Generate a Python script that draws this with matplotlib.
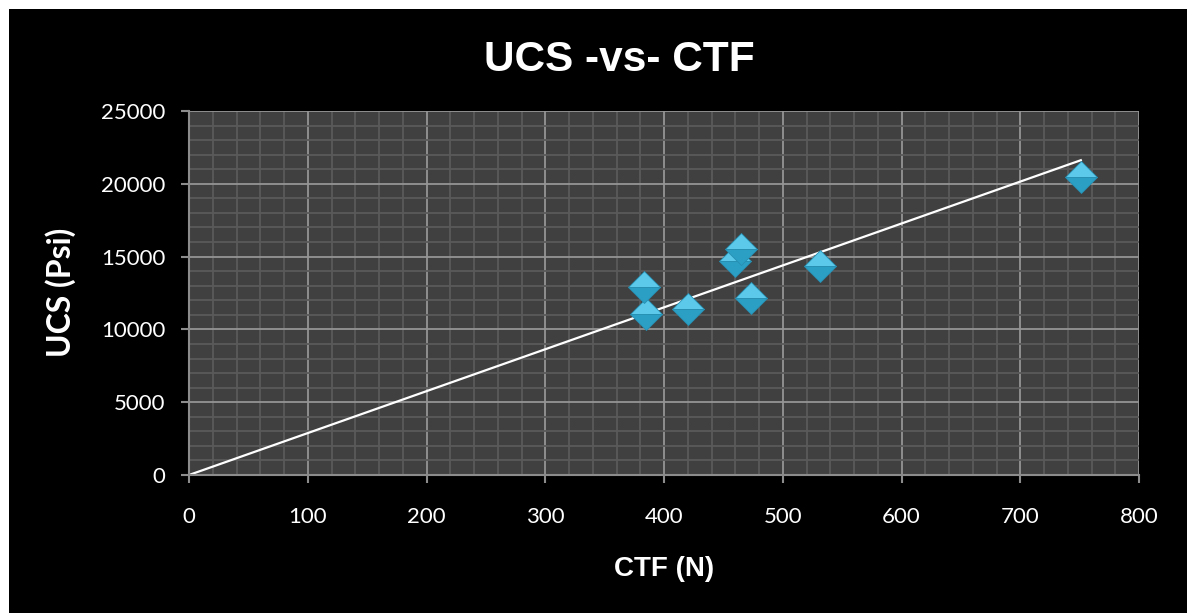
import numpy as np
import matplotlib
matplotlib.use("Agg")
import matplotlib.pyplot as plt
from matplotlib.patches import Rectangle
from matplotlib.ticker import MultipleLocator

# Data
ctf = [383, 385, 420, 460, 465, 473, 531, 751]
ucs = [12900, 11050, 11400, 14700, 15500, 12150, 14350, 20450]
title = "UCS -vs- CTF"
xlabel = "CTF (N)"
ylabel = "UCS (Psi)"

W, H = 1187, 613
fig = plt.figure(figsize=(W / 100, H / 100), dpi=100)
fig.patch.set_facecolor("white")
fig.patches.append(Rectangle((9 / W, 0), 1 - 9 / W, 1 - 9 / H, transform=fig.transFigure,
                             facecolor="black", edgecolor="none", zorder=-10))

ax = fig.add_axes([189 / W, 1 - 475 / H, (1139 - 189) / W, (475 - 111) / H])
ax.set_facecolor("#404040")
ax.set_xlim(0, 800)
ax.set_ylim(0, 25000)
ax.xaxis.set_major_locator(MultipleLocator(100))
ax.xaxis.set_minor_locator(MultipleLocator(20))
ax.yaxis.set_major_locator(MultipleLocator(5000))
ax.yaxis.set_minor_locator(MultipleLocator(1000))
ax.grid(which="minor", color="#5a5a5a", linewidth=1.3, zorder=0)
ax.grid(which="major", color="#959595", linewidth=1.3, zorder=0)
ax.set_axisbelow(True)
for s in ["top", "right"]:
    ax.spines[s].set_visible(False)
for s in ["left", "bottom"]:
    ax.spines[s].set_color("#8c8c8c")
    ax.spines[s].set_linewidth(1.5)
ax.tick_params(which="major", direction="out", length=6, width=1.5, color="#8c8c8c",
               labelcolor="white", labelsize=16)
ax.tick_params(which="minor", length=0)
ax.tick_params(axis="y", pad=11)
ax.tick_params(axis="x", pad=17)
for lab in ax.get_xticklabels() + ax.get_yticklabels():
    lab.set_family("Lato")

# Linear trendline through origin
x = np.array(ctf, dtype=float)
y = np.array(ucs, dtype=float)
slope = (x * y).sum() / (x * x).sum()
xl = np.array([0, x.max()])
ax.plot(xl, slope * xl, color="white", linewidth=1.6, zorder=2)

ax.plot(ctf, ucs, linestyle="none", marker="D", markersize=16.5, fillstyle="top",
        markerfacecolor="#5cc8ea", markerfacecoloralt="#2b9fc4", markeredgecolor="#2790b3",
        markeredgewidth=0.6, zorder=3, clip_on=False)

fig.text(619 / W, 1 - 60 / H, title, color="white", fontsize=30.5, fontweight="bold",
         family="Liberation Sans", ha="center", va="center")
fig.text(664 / W, 1 - 569 / H, xlabel, color="white", fontsize=20, fontweight="bold",
         family="Liberation Sans", ha="center", va="center")
fig.text(61 / W, 1 - 292 / H, ylabel, color="white", fontsize=23, fontweight="bold",
         family="Lato", ha="center", va="center", rotation=90)

fig.savefig("out.png", dpi=100, facecolor=fig.get_facecolor())
